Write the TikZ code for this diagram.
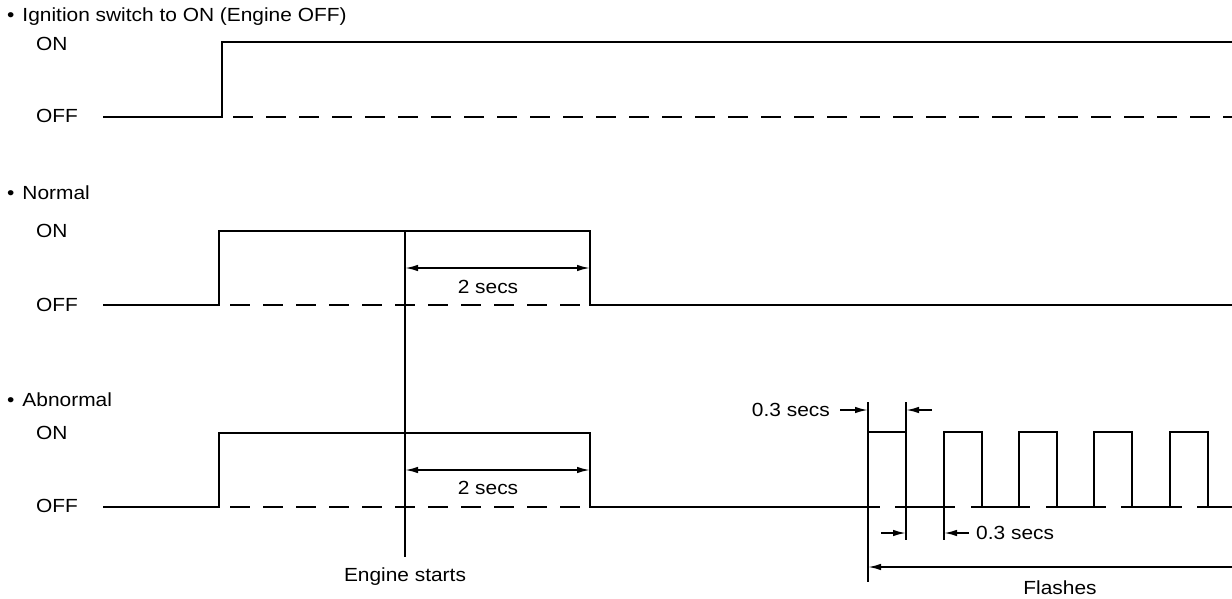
\documentclass[tikz,border=0pt]{standalone}
\usepackage{fontspec}
\setmainfont{Liberation Sans}[FakeStretch=1.1]
\usetikzlibrary{arrows.meta}
\begin{document}
\begin{tikzpicture}[x=1pt,y=-1pt,
  sig/.style={line width=1.8pt},
  offdash/.style={line width=1.8pt, dash pattern=on 20pt off 13pt, dash phase=22pt},
  ext/.style={line width=1.5pt},
  arr/.style={line width=1.7pt, -{Latex[length=13pt,width=6.5pt]}},
  arrboth/.style={line width=1.7pt, {Latex[length=13pt,width=6.5pt]}-{Latex[length=13pt,width=6.5pt]}},
  lbl/.style={inner sep=0pt, font=\fontsize{19}{23}\selectfont}]
\useasboundingbox (0,0) rectangle (1232,598);

% titles and level labels
\node[lbl, anchor=west] (t1) at (7,17) {•\hspace{8pt}Ignition switch to ON (Engine OFF)};
\node[lbl, anchor=west] (on1) at (36,44) {ON};
\node[lbl, anchor=west] (off1) at (36,116) {OFF};
\node[lbl, anchor=west] (t2) at (7,193) {•\hspace{8pt}Normal};
\node[lbl, anchor=west] (on2) at (36,231) {ON};
\node[lbl, anchor=west] (off2) at (36,305) {OFF};
\node[lbl, anchor=west] (t3) at (7,400) {•\hspace{8pt}Abnormal};
\node[lbl, anchor=west] (on3) at (36,433) {ON};
\node[lbl, anchor=west] (off3) at (36,506) {OFF};

% row 1
\coordinate (a0) at (103,117);
\coordinate (a1) at (222,117);
\coordinate (a2) at (222,42);
\coordinate (a3) at (1232,42);
\coordinate (a4) at (1232,117);
\draw[sig] (a0) -- (a1) -- (a2) -- (a3);
\draw[offdash] (a1) -- (a4);

% row 2
\coordinate (n0) at (103,305);
\coordinate (n1) at (219,305);
\coordinate (n2) at (219,231);
\coordinate (n3) at (590,231);
\coordinate (n4) at (590,305);
\coordinate (n5) at (1232,305);
\draw[sig] (n0) -- (n1) -- (n2) -- (n3) -- (n4) -- (n5);
\draw[offdash] (n1) -- (n4);

% engine starts line
\coordinate (e0) at (405,231);
\coordinate (e1) at (405,557);
\draw[ext] (e0) -- (e1);
\node[lbl] (es) at (405,577) {Engine starts};

% 2 secs (normal)
\coordinate (d1a) at (405,268);
\coordinate (d1b) at (590,268);
\draw[arrboth] (d1a) -- (d1b);
\node[lbl] (s1) at (488,287) {2 secs};

% row 3
\coordinate (b0) at (103,507);
\coordinate (b1) at (219,507);
\coordinate (b2) at (219,433);
\coordinate (b3) at (590,433);
\coordinate (b4) at (590,507);
\coordinate (b5) at (880,507);
\draw[sig] (b0) -- (b1) -- (b2) -- (b3) -- (b4) -- (b5);
\draw[offdash] (b1) -- (b4);
\coordinate (d2a) at (405,470);
\coordinate (d2b) at (590,470);
\draw[arrboth] (d2a) -- (d2b);
\node[lbl] (s2) at (488,488) {2 secs};

% OFF line under flashes
\draw[sig] (895,507) -- (955,507);
\draw[sig] (971,507) -- (1030,507);
\draw[sig] (1046,507) -- (1106,507);
\draw[sig] (1121,507) -- (1182,507);
\draw[sig] (1197,507) -- (1232,507);

% pulses
\foreach \p in {868,944,1019,1094,1170}{
  \draw[sig] (\p,507) -- (\p,432) -- (\p+38,432) -- (\p+38,507);
}

% extension lines
\coordinate (x1t) at (868,402);
\coordinate (x1b) at (868,582);
\coordinate (x2t) at (906,402);
\coordinate (x2b) at (906,540);
\coordinate (x3t) at (944,432);
\coordinate (x3b) at (944,540);
\draw[ext] (x1t) -- (x1b);
\draw[ext] (x2t) -- (x2b);
\draw[ext] (x3t) -- (x3b);

% 0.3 secs (top)
\coordinate (u1) at (840,410);
\coordinate (u2) at (868,410);
\coordinate (u3) at (932,410);
\coordinate (u4) at (906,410);
\draw[arr] (u1) -- (u2);
\draw[arr] (u3) -- (u4);
\node[lbl, anchor=east] (q1) at (830,410) {0.3 secs};

% 0.3 secs (bottom)
\coordinate (v1) at (881,533);
\coordinate (v2) at (906,533);
\coordinate (v3) at (969,533);
\coordinate (v4) at (944,533);
\draw[arr] (v1) -- (v2);
\draw[arr] (v3) -- (v4);
\node[lbl, anchor=west] (q2) at (976,533) {0.3 secs};

% flashes
\coordinate (f1) at (1232,567);
\coordinate (f2) at (868,567);
\draw[arr] (f1) -- (f2);
\node[lbl] (fl) at (1060,588) {Flashes};
\end{tikzpicture}
\end{document}
